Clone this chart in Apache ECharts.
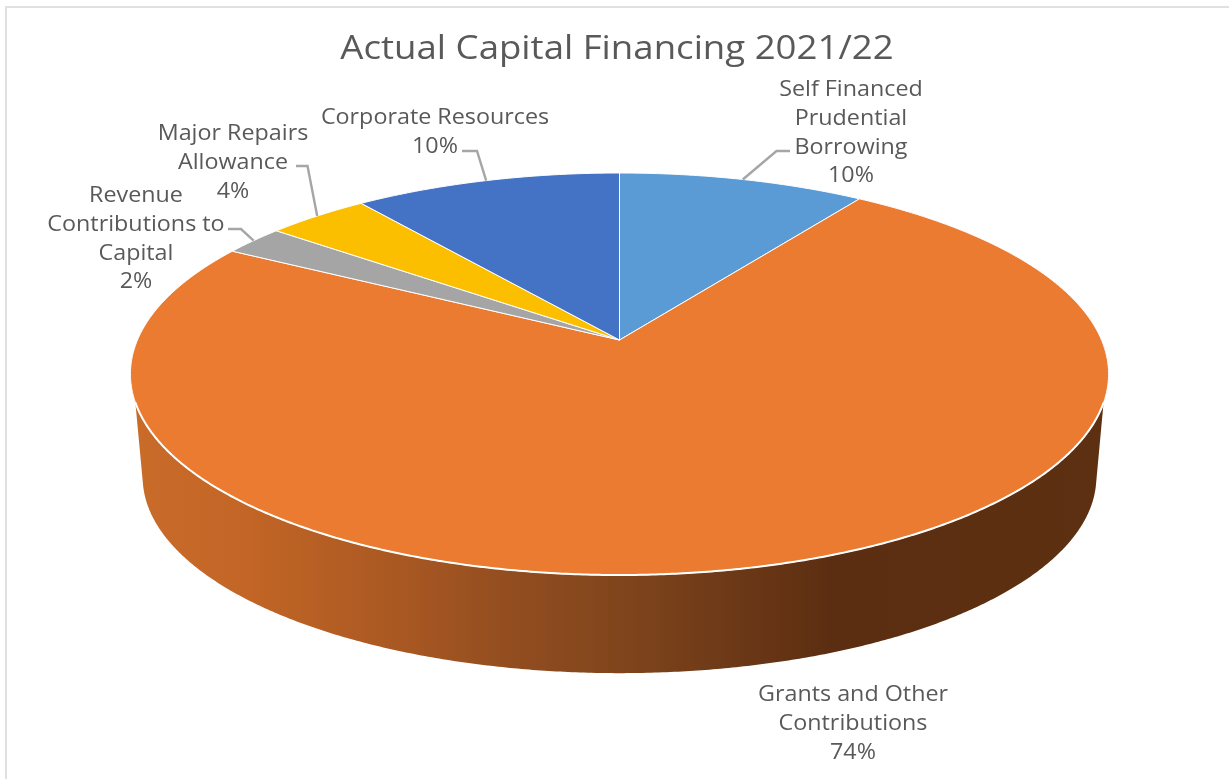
<!DOCTYPE html>
<html>
<head>
<meta charset="utf-8">
<style>html,body{margin:0;padding:0;background:#fff}#c{width:1229px;height:779px}</style>
<script src="https://cdn.jsdelivr.net/npm/echarts@6/dist/echarts.min.js"></script>
</head>
<body>
<div id="c"></div>
<script>
// Data, clockwise from 12 o'clock
const titleText = 'Actual Capital Financing 2021/22';
const categories = ['Self Financed\nPrudential\nBorrowing', 'Grants and Other\nContributions', 'Revenue\nContributions to\nCapital', 'Major Repairs\nAllowance', 'Corporate Resources'];
const values = [9.6, 73.6, 2.4, 4.0, 10.4];
const colors = ['#5B9BD5', '#EB7B31', '#A5A5A5', '#FBBF00', '#4472C4'];

// Perspective layout of the pie disc
const FONT = '"Open Sans", "Noto Sans", sans-serif';
const cx = 619.5, apexY = 340, a = 482, b = 195.25, k = 0.1692;
const wallScale = 0.975, wallApexY = 444, wallTopY = 402, wallBottomY = 483;
const labelBoxes = [[851, 76], [853, 681], [136, 182], [233, 120], [435, 104]];
const leaderElbows = [[[790, 151], [776.5, 151]], null, [[228, 229], [241, 229]], [[296, 166], [307.5, 166]], [[462, 151], [477, 151]]];
const wallStops = [[132, '#C96C2A'], [250, '#C26526'], [400, '#A95822'], [500, '#944E20'], [620, '#80451C'], [730, '#6D3917'], [830, '#5C2E11'], [1107, '#5E3012']];
const textStretch = 1.1;

function rim(deg, scale, y0) {
  const t = deg * Math.PI / 180, X = Math.sin(t), Y = Math.cos(t), d = 1 + k * Y;
  return [cx + scale * a * X / d, y0 - scale * b * Y / d];
}
const total = values.reduce((s, v) => s + v, 0);
function sliceRange(i) {
  let s = 0;
  for (let j = 0; j < i; j++) s += values[j];
  return [s / total * 360, (s + values[i]) / total * 360];
}
function renderItem(params, api) {
  const i = params.dataIndex, v = api.value(0);
  const [from, to] = sliceRange(i);
  const children = [];
  const top = [], near = [], nearBottom = [];
  const N = Math.max(2, Math.ceil((to - from) / 0.4));
  for (let n = 0; n <= N; n++) {
    const d = from + (to - from) * n / N, p = rim(d, 1, apexY), q = rim(d, wallScale, wallApexY);
    top.push(p);
    if (p[1] >= wallTopY) near.push(p);
    if (q[1] >= wallBottomY) nearBottom.push(q);
  }
  if (near.length > 1) {
    const stops = wallStops.map(s => ({ offset: (s[0] - 132) / (1107 - 132), color: s[1] }));
    children.push({
      type: 'polygon', shape: { points: near.concat(nearBottom.slice().reverse()) },
      style: { fill: new echarts.graphic.LinearGradient(132, 0, 1107, 0, stops, true) }
    });
  }
  children.push({
    type: 'polygon', shape: { points: [[cx, apexY]].concat(top) },
    style: { fill: colors[i], stroke: '#fff', lineWidth: 1 }
  });
  if (near.length > 1) {
    children.push({
      type: 'polyline', shape: { points: near },
      style: { fill: null, stroke: '#fff', lineWidth: 2 }
    });
  }
  if (leaderElbows[i]) {
    children.push({
      type: 'polyline', shape: { points: leaderElbows[i].concat([rim((from + to) / 2, 1, apexY)]) },
      style: { fill: null, stroke: '#A6A6A6', lineWidth: 2.4 }
    });
  }
  children.push({
    type: 'text', z2: 10, x: labelBoxes[i][0], y: labelBoxes[i][1], scaleX: textStretch,
    style: {
      text: categories[i] + '\n' + Math.round(v / total * 100) + '%',
      x: 0, y: 0, align: 'center', verticalAlign: 'top',
      fill: '#595959', font: '21.2px ' + FONT, lineHeight: 28.7
    }
  });
  return { type: 'group', children };
}
const chart = echarts.init(document.getElementById('c'), null, { renderer: 'canvas' });
chart.setOption({
  animation: false,
  backgroundColor: '#fff',
  graphic: [
    { type: 'line', shape: { x1: 5, y1: 7, x2: 1229, y2: 7 }, style: { stroke: '#E0E0E0', lineWidth: 2 } },
    { type: 'line', shape: { x1: 6, y1: 7, x2: 6, y2: 779 }, style: { stroke: '#E0E0E0', lineWidth: 2 } },
    {
      type: 'text', x: 617, y: 50, scaleX: 1.13,
      style: { text: titleText, x: 0, y: 0, align: 'center', verticalAlign: 'middle', fill: '#595959', font: '32.4px ' + FONT }
    }
  ],
  series: [{ type: 'custom', coordinateSystem: 'none', renderItem, data: values, silent: true }]
});
</script>
</body>
</html>
